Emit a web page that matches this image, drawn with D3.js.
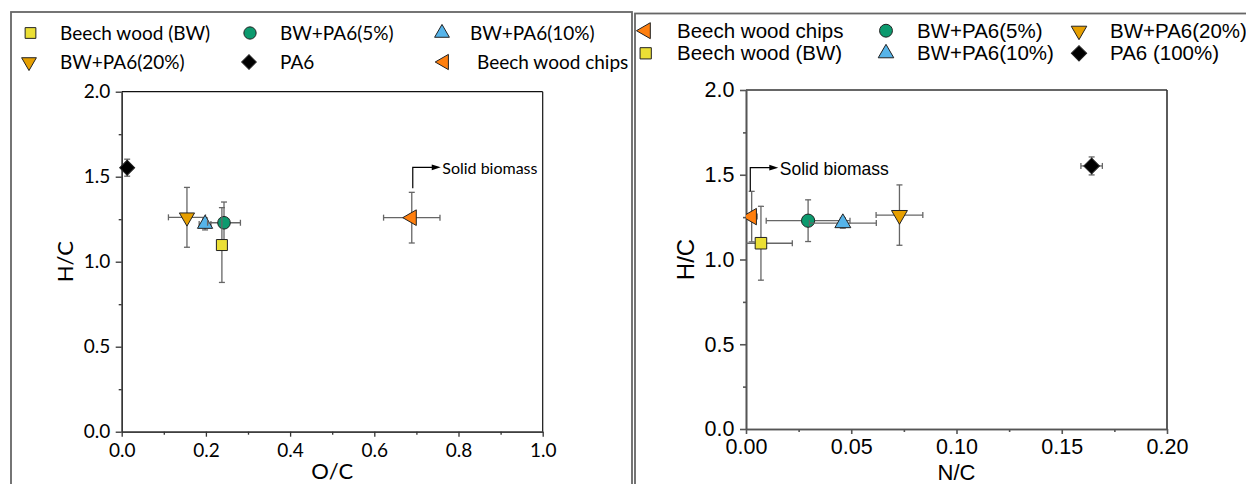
<!DOCTYPE html>
<html>
<head>
<meta charset="utf-8">
<script src="https://cdn.jsdelivr.net/npm/d3@7"></script>
<style>
  body { margin: 0; background: #fff; }
</style>
</head>
<body>
<svg width="1246" height="484"></svg>
<script>
// series (same order in both panels)
var names = ["Beech wood (BW)", "BW+PA6(5%)", "BW+PA6(10%)", "BW+PA6(20%)", "PA6", "Beech wood chips"];
var rightNames = ["Beech wood (BW)", "BW+PA6(5%)", "BW+PA6(10%)", "BW+PA6(20%)", "PA6 (100%)", "Beech wood chips"];
var colors = ["#ebdf35", "#0c9a6e", "#56b4e9", "#e69f00", "#000000", "#ff7f0e"];
var shapes = ["square", "circle", "up", "down", "diamond", "left"];

// left panel, O/C vs H/C
var ocVal = [0.238, 0.243, 0.198, 0.155, 0.013, 0.689];
var ocErr = [0.005, 0.039, 0.014, 0.044, 0.005, 0.067];
var hcLeft = [1.098, 1.229, 1.222, 1.261, 1.553, 1.259];
var hcLeftErr = [0.22, 0.122, 0.035, 0.176, 0.05, 0.149];

// right panel, N/C vs H/C
var ncVal = [0.0071, 0.0295, 0.046, 0.0729, 0.1642, 0.0027];
var ncErr = [0.0149, 0.0199, 0.0159, 0.0111, 0.0051, 0.0026];
var hcRight = [1.096, 1.229, 1.215, 1.262, 1.552, 1.253];
var hcRightErr = [0.218, 0.123, 0.03, 0.178, 0.053, 0.149];

// ticks
var ocTicks = [0, 0.2, 0.4, 0.6, 0.8, 1.0];
var ocMinor = [0.1, 0.3, 0.5, 0.7, 0.9];
var ncTicks = [0, 0.05, 0.10, 0.15, 0.20];
var ncMinor = [0.025, 0.075, 0.125, 0.175];
var hcTicks = [0, 0.5, 1.0, 1.5, 2.0];
var hcMinor = [0.25, 0.75, 1.25, 1.75];

// legend order
var leftLegendRows = [[0, 1, 2], [3, 4, 5]];
var rightLegendRows = [[5, 1, 3], [0, 2, 4]];

var svg = d3.select("svg");
svg.append("rect").attr("width", 1246).attr("height", 484).attr("fill", "#fff");

// outer boxes
svg.append("rect").attr("x", 11).attr("y", 12).attr("width", 621).attr("height", 520)
  .attr("fill", "none").attr("stroke", "#666").attr("stroke-width", 1.8);
svg.append("rect").attr("x", 635).attr("y", 13.5).attr("width", 700).attr("height", 520)
  .attr("fill", "none").attr("stroke", "#666").attr("stroke-width", 1.8);

var symTable = {
  square:  [d3.symbolSquare, 121, 0],
  circle:  [d3.symbolCircle, 125, 0],
  up:      [d3.symbolTriangle, 100, 0],
  down:    [d3.symbolTriangle, 100, 180],
  left:    [d3.symbolTriangle, 106, -90],
  diamond: [d3.symbolSquare, 112, 45]
};

function marker(g, shape, color, cx, cy, k) {
  var t = symTable[shape];
  g.append("path")
    .attr("d", d3.symbol(t[0], t[1] * k)())
    .attr("transform", "translate(" + cx + "," + cy + ") rotate(" + t[2] + ")")
    .attr("fill", color)
    .attr("stroke", "#222")
    .attr("stroke-width", 1);
}

function drawPanel(p) {
  var g = svg.append("g");
  var x = d3.scaleLinear().domain([p.xTicks[0], p.xTicks[p.xTicks.length - 1]]).range([p.left, p.right]);
  var y = d3.scaleLinear().domain([0, 2]).range([p.bottom, p.top]);

  // frame top / right
  g.append("line").attr("x1", p.left).attr("x2", p.right).attr("y1", p.top).attr("y2", p.top)
    .attr("stroke", p.frameColor).attr("stroke-width", p.frameWidth);
  g.append("line").attr("x1", p.right).attr("x2", p.right).attr("y1", p.top).attr("y2", p.bottom)
    .attr("stroke", p.frameColor).attr("stroke-width", p.frameWidth);

  // minor ticks
  g.append("g").attr("transform", "translate(0," + p.bottom + ")")
    .call(d3.axisBottom(x).tickValues(p.xMinor).tickSize(3).tickSizeOuter(0).tickFormat(""));
  g.append("g").attr("transform", "translate(" + p.left + ",0)")
    .call(d3.axisLeft(y).tickValues(hcMinor).tickSize(3).tickSizeOuter(0).tickFormat(""));

  // major axes
  g.append("g").attr("transform", "translate(0," + p.bottom + ")")
    .call(d3.axisBottom(x).tickValues(p.xTicks).tickSize(5).tickSizeOuter(0)
      .tickPadding(p.xPad).tickFormat(d3.format(p.xFormat)));
  g.append("g").attr("transform", "translate(" + p.left + ",0)")
    .call(d3.axisLeft(y).tickValues(hcTicks).tickSize(6).tickSizeOuter(0)
      .tickPadding(5.5).tickFormat(d3.format(".1f")));

  g.selectAll(".domain, .tick line").attr("stroke", p.axisColor).attr("stroke-width", p.axisWidth);
  g.selectAll(".tick text").attr("font-family", p.font).attr("font-size", p.tickFont).attr("fill", "#000");

  // axis titles
  g.append("text").attr("x", (p.left + p.right) / 2).attr("y", p.xTitleY)
    .attr("text-anchor", "middle").attr("font-family", p.font).attr("font-size", p.titleFont)
    .text(p.xTitle);
  g.append("text").attr("transform", "translate(" + p.yTitleX + "," + (p.top + p.bottom) / 2 + ") rotate(-90)")
    .attr("text-anchor", "middle").attr("font-family", p.font).attr("font-size", p.yTitleFont)
    .text("H/C");

  // marks
  var clipId = "clip" + p.id;
  svg.append("clipPath").attr("id", clipId).append("rect")
    .attr("x", p.clip ? p.left : 0).attr("y", 0).attr("width", 1246).attr("height", 484);
  var m = g.append("g").attr("clip-path", "url(#" + clipId + ")");

  p.order.forEach(function(i) {
    var cx = x(p.xs[i]), cy = y(p.ys[i]);
    var x0 = x(p.xs[i] - p.xe[i]), x1 = x(p.xs[i] + p.xe[i]);
    var y0 = y(p.ys[i] - p.ye[i]), y1 = y(p.ys[i] + p.ye[i]);
    var eb = m.append("g").attr("stroke", "#666").attr("stroke-width", 1.3);
    eb.append("line").attr("x1", x0).attr("x2", x1).attr("y1", cy).attr("y2", cy);
    eb.append("line").attr("x1", cx).attr("x2", cx).attr("y1", y0).attr("y2", y1);
    [x0, x1].forEach(function(v) {
      eb.append("line").attr("x1", v).attr("x2", v).attr("y1", cy - 3).attr("y2", cy + 3);
    });
    [y0, y1].forEach(function(v) {
      eb.append("line").attr("x1", cx - 3).attr("x2", cx + 3).attr("y1", v).attr("y2", v);
    });
    marker(m, shapes[i], colors[i], cx, cy, p.k);
  });

  // Solid biomass annotation from the beech wood chips point
  var c = 5;
  var ax = x(p.xs[c]) + p.annDx;
  var ayTop = y(p.annY);
  var ayBot = y(p.ys[c] + p.ye[c]) - p.annGap;
  g.append("path")
    .attr("d", "M" + ax + "," + ayBot + "V" + ayTop + "H" + (ax + 20))
    .attr("fill", "none").attr("stroke", "#000").attr("stroke-width", 1.2);
  g.append("path")
    .attr("d", "M" + (ax + 19) + "," + (ayTop - 2.8) + "L" + (ax + 28) + "," + ayTop + "L" + (ax + 19) + "," + (ayTop + 2.8) + "Z")
    .attr("fill", "#000");
  g.append("text").attr("x", ax + 29.5).attr("y", ayTop + 1).attr("dy", "0.35em")
    .attr("font-family", p.font).attr("font-size", p.annFont)
    .text("Solid biomass");

  // legend
  p.legendRows.forEach(function(row, r) {
    row.forEach(function(i, col) {
      marker(g, shapes[i], colors[i], p.legMarkerX[r][col], p.legRowY[r], p.k * 0.95);
      g.append("text").attr("x", p.legTextX[r][col]).attr("y", p.legRowY[r]).attr("dy", "0.35em")
        .attr("font-family", p.font).attr("font-size", p.legFont)
        .text(p.labels[i]);
    });
  });
}

drawPanel({
  id: "L", left: 121.7, right: 542.7, top: 91.7, bottom: 431.7,
  xTicks: ocTicks, xMinor: ocMinor, xFormat: ".1f", xPad: 7, xTitle: "O/C",
  xs: ocVal, xe: ocErr, ys: hcLeft, ye: hcLeftErr,
  order: [5, 3, 2, 1, 0, 4], clip: false, k: 1,
  font: "Lato", tickFont: 19, titleFont: 22, yTitleFont: 22, legFont: 19, annFont: 16,
  xTitleY: 479, yTitleX: 73,
  axisColor: "#333", axisWidth: 1.3, frameColor: "#111", frameWidth: 1.2,
  annDx: 1, annY: 1.555, annGap: 4,
  labels: names, legendRows: leftLegendRows,
  legRowY: [33, 62],
  legMarkerX: [[30.5, 250, 442], [29, 249, 444]],
  legTextX: [[60, 280, 470], [60, 280, 477]]
});

drawPanel({
  id: "R", left: 746, right: 1167, top: 90, bottom: 429,
  xTicks: ncTicks, xMinor: ncMinor, xFormat: ".2f", xPad: 5, xTitle: "N/C",
  xs: ncVal, xe: ncErr, ys: hcRight, ye: hcRightErr,
  order: [5, 3, 1, 0, 2, 4], clip: true, k: 1.1,
  font: "Liberation Sans", tickFont: 21.5, titleFont: 22, yTitleFont: 24, legFont: 20.5, annFont: 17.5,
  xTitleY: 480, yTitleX: 694,
  axisColor: "#555", axisWidth: 1.6, frameColor: "#333", frameWidth: 1.6,
  annDx: -1.4, annY: 1.542, annGap: 0,
  labels: rightNames, legendRows: rightLegendRows,
  legRowY: [30.7, 53.3],
  legMarkerX: [[645.7, 886, 1079], [645.7, 886, 1079]],
  legTextX: [[677, 917, 1110], [677, 917, 1110]]
});
</script>
</body>
</html>
